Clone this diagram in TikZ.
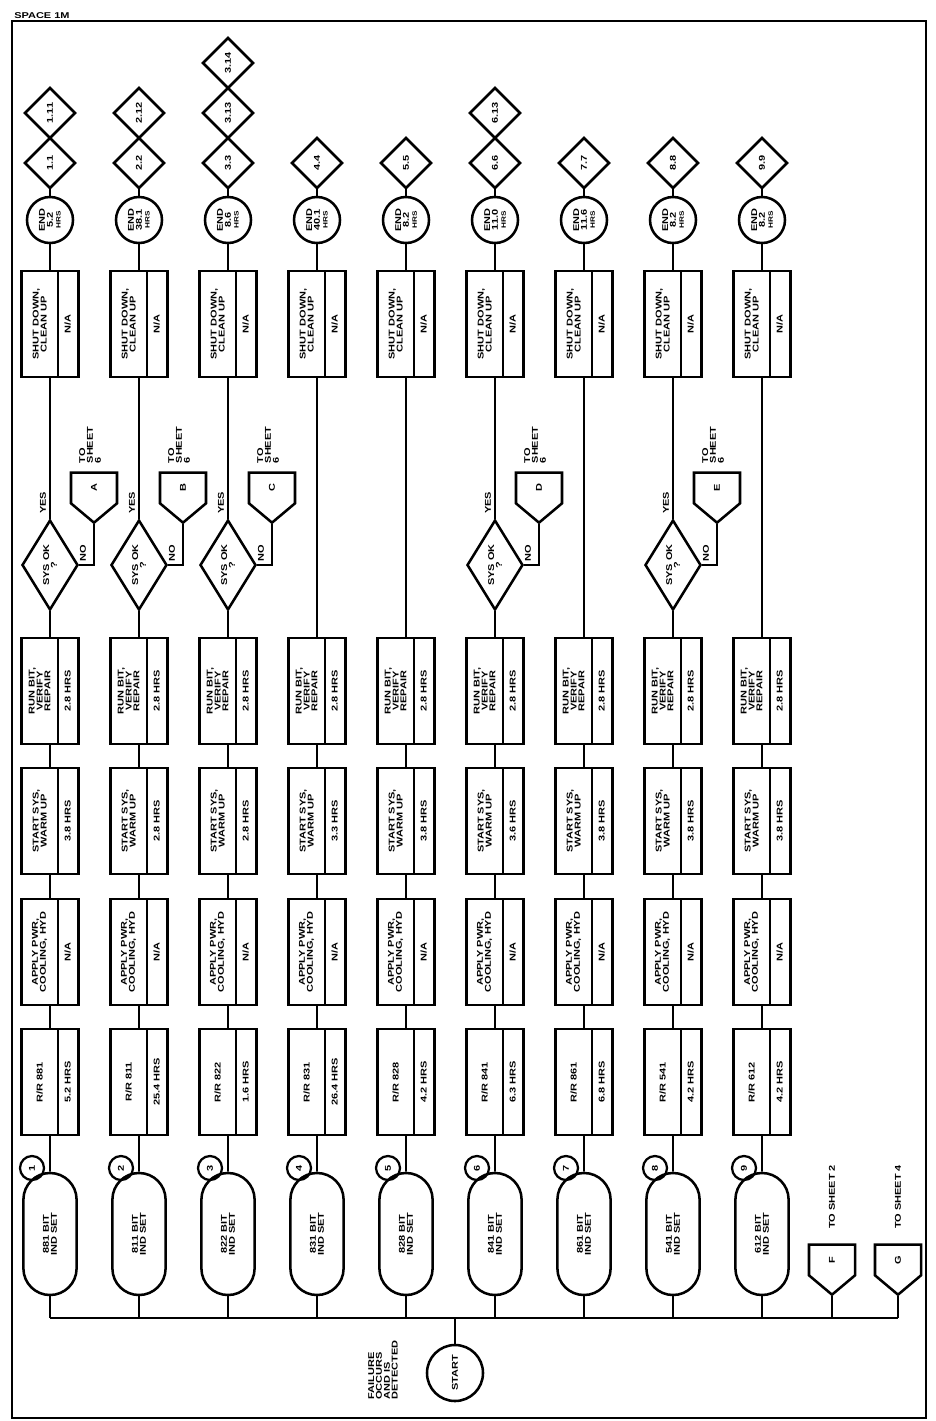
\documentclass[tikz,border=0pt]{standalone}
\usepackage{fontspec}
\newfontfamily\chartfont{Liberation Sans}[FakeStretch=1.3]
\usepackage{tikz}
\usetikzlibrary{shapes.geometric,shapes.misc,shapes.symbols}

\tikzset{
  link/.style={line width=1.3pt},
  boxframe/.style={draw, line width=1.8pt, rotate=90, outer sep=0pt, minimum width=2.65cm, minimum height=1.43cm},
  boxtext/.style={rotate=90, align=center, minimum width=2.65cm, minimum height=0.9cm},
  boxtime/.style={rotate=90, minimum width=2.65cm, minimum height=0.53cm},
  oval/.style={draw, rounded rectangle, line width=1.8pt, rotate=90, align=center, minimum width=3.05cm, minimum height=1.33cm},
  numdot/.style={draw, circle, line width=1.6pt, rotate=90, minimum size=0.6cm},
  endcircle/.style={draw, circle, line width=1.8pt, rotate=90, align=center, minimum size=1.15cm},
  tag/.style={draw, diamond, line width=1.8pt, rotate=90, outer sep=0pt, minimum size=1.25cm},
  decision/.style={draw, diamond, line width=1.8pt, rotate=90, align=center, minimum width=2.25cm, minimum height=1.4cm},
  sheetlink/.style={draw, signal, signal to=west, signal pointer angle=100, line width=1.8pt, rotate=90, minimum width=1.25cm, minimum height=1.15cm},
  note/.style={rotate=90}
}

% two-part task box: name, x, y, task, time
\newcommand\taskbox[5]{%
  \node[boxframe] (#1) at (#2,#3) {};
  \node[boxtext, anchor=north] (#1t) at (#1.north) {#4};
  \node[boxtime, anchor=south] (#1h) at (#1.south) {#5};
  \draw[line width=1pt] (#1t.south west) -- (#1t.south east);
}

\begin{document}
\begin{tikzpicture}[x=0.025cm, y=-0.025cm, every node/.style={font=\chartfont\bfseries\fontsize{6}{5.6}\selectfont, inner sep=0pt}]
\useasboundingbox (0,0) rectangle (935,1421);
\draw[line width=1.2pt] (12,21) rectangle (926,1418);
\node[anchor=south west] (page) at (14,19) {SPACE 1M};

% bus and start
\coordinate (busL) at (50,1318);
\coordinate (busR) at (898,1318);
\draw[link] (busL) -- (busR);
\node[endcircle, minimum size=1.4cm] (start) at (455,1373) {START};
\node[note, align=left] (fail) at (383,1370) {FAILURE\\OCCURS\\AND IS\\DETECTED};
\draw[link] (start) -- (start |- busL);

% one column per failure
\foreach \i/\rr/\rrt/\st/\endt in {1/881/5.2/3.8/5.2, 2/811/25.4/2.8/38.1, 3/822/1.6/2.8/8.6,
    4/831/26.4/3.3/40.1, 5/828/4.2/3.8/8.2, 6/841/6.3/3.6/11.0, 7/861/6.8/3.8/11.6,
    8/541/4.2/3.8/8.2, 9/612/4.2/3.8/8.2}{
  \pgfmathsetmacro\cx{50+89*(\i-1)}
  \node[oval] (ov\i) at (\cx,1234) {\rr\ BIT\\IND SET};
  \node[numdot] (n\i) at (\cx-18,1168) {\i};
  \taskbox{rr\i}{\cx}{1082}{R/R \rr}{\rrt\ HRS}
  \taskbox{ap\i}{\cx}{952}{APPLY PWR,\\COOLING, HYD}{N/A}
  \taskbox{ss\i}{\cx}{821}{START SYS,\\WARM UP}{\st\ HRS}
  \taskbox{rb\i}{\cx}{691}{RUN BIT,\\VERIFY\\REPAIR}{2.8 HRS}
  \taskbox{sd\i}{\cx}{324}{SHUT DOWN,\\CLEAN UP}{N/A}
  \node[endcircle] (en\i) at (\cx,220) {END\\\endt\\{\fontsize{4.5}{5}\selectfont HRS}};
  \draw[link] (ov\i) -- (ov\i |- busL);
  \draw[link] (ov\i) -- (rr\i);
  \draw[link] (rr\i) -- (ap\i);
  \draw[link] (ap\i) -- (ss\i);
  \draw[link] (ss\i) -- (rb\i);
  \draw[link] (sd\i) -- (en\i);
}

% checks with a way out to sheet 6
\foreach \i/\l in {1/A, 2/B, 3/C, 6/D, 8/E}{
  \pgfmathsetmacro\cx{50+89*(\i-1)}
  \node[decision] (dc\i) at (\cx,565) {SYS OK\\?};
  \node[sheetlink] (p\l) at (\cx+44,488) {\l};
  \node[note, align=left] (to\l) at (\cx+40,445) {TO\\SHEET\\6};
  \node[note] (no\i) at (\cx+33,553) {NO};
  \node[note] (yes\i) at (\cx-7,503) {YES};
  \draw[link] (rb\i) -- (dc\i);
  \draw[link] (dc\i) -- (sd\i);
  \draw[link] (dc\i.south) -| (p\l.west);
}
\foreach \i in {4,5,7,9}{
  \draw[link] (rb\i) -- (sd\i);
}

% reference tags
\foreach \i/\t in {1/1.1, 2/2.2, 3/3.3, 4/4.4, 5/5.5, 6/6.6, 7/7.7, 8/8.8, 9/9.9}{
  \pgfmathsetmacro\cx{50+89*(\i-1)}
  \node[tag] (ta\i) at (\cx,163) {\t};
  \draw[link] (en\i) -- (ta\i);
}
\foreach \i/\t in {1/1.11, 2/2.12, 3/3.13, 6/6.13}{
  \pgfmathsetmacro\cx{50+89*(\i-1)}
  \node[tag] (tb\i) at (\cx,113) {\t};
}
\node[tag] (tc3) at (228,63) {3.14};

% to other sheets
\node[sheetlink] (pF) at (832,1260) {F};
\node[note] (toF) at (832,1197) {TO SHEET 2};
\node[sheetlink] (pG) at (898,1260) {G};
\node[note] (toG) at (898,1197) {TO SHEET 4};
\draw[link] (pF.west) -- (pF.west |- busL);
\draw[link] (pG.west) -- (pG.west |- busL);
\end{tikzpicture}
\end{document}
